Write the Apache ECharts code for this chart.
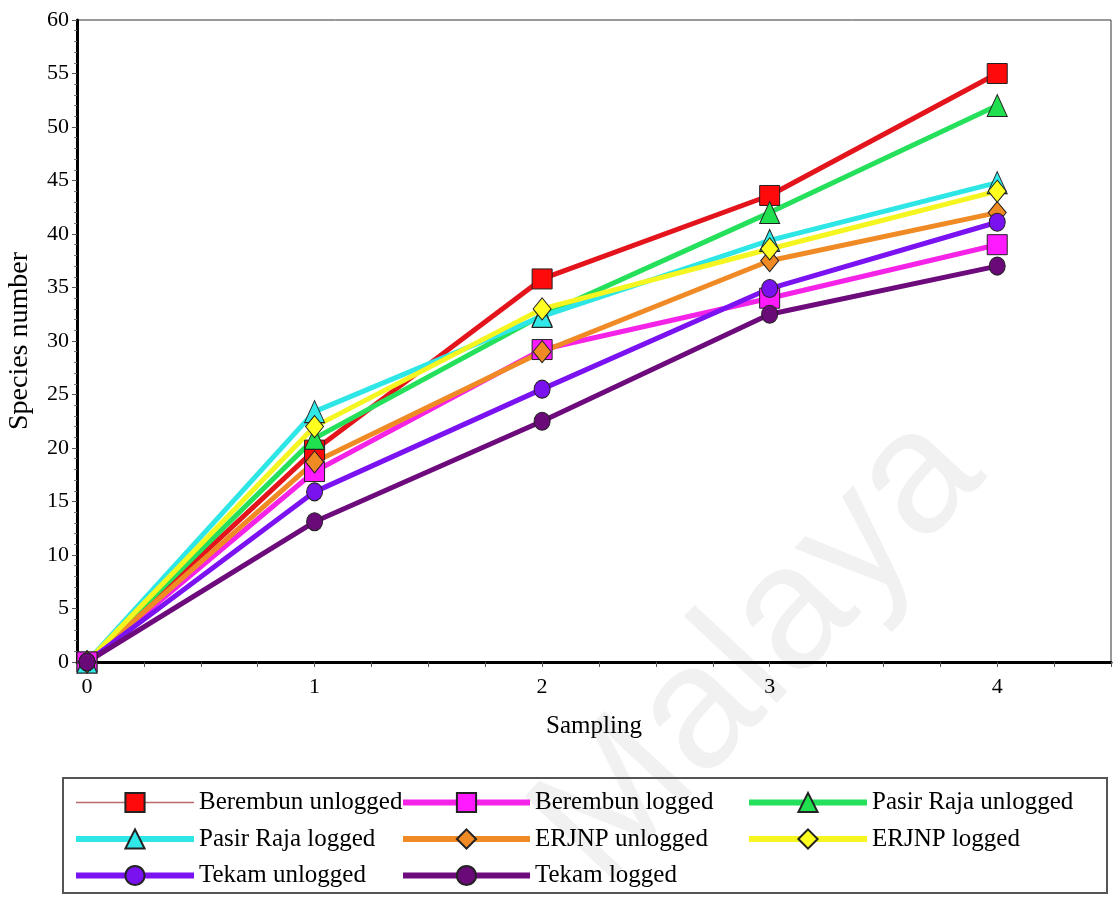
<!DOCTYPE html>
<html>
<head>
<meta charset="utf-8">
<script src="https://cdn.jsdelivr.net/npm/echarts@6/dist/echarts.min.js"></script>
<style>
html,body{margin:0;padding:0;background:#fff;}
#chart{width:1115px;height:899px;}
</style>
</head>
<body>
<div id="chart"></div>
<script>
// ---- data ----
const samplings = [0, 1, 2, 3, 4];
const xTickValues = [0, 0.25, 0.5, 0.75, 1, 1.25, 1.5, 1.75, 2, 2.25, 2.5, 2.75, 3, 3.25, 3.5, 3.75, 4, 4.25, 4.5];
const xLabelValues = [0, 1, 2, 3, 4];
const seriesNames = ['Berembun unlogged', 'Berembun logged', 'Pasir Raja unlogged', 'Pasir Raja logged',
  'ERJNP unlogged', 'ERJNP logged', 'Tekam unlogged', 'Tekam logged'];
const berembunUnlogged = [0, 19.8, 35.8, 43.6, 55];
const berembunLogged   = [0, 17.8, 29.2, 34.0, 39];
const pasirRajaUnlogged = [0, 20.9, 32.4, 42.0, 52];
const pasirRajaLogged  = [0, 23.4, 32.3, 39.4, 44.8];
const erjnpUnlogged    = [0, 18.7, 29.0, 37.5, 42];
const erjnpLogged      = [0, 22.0, 33.0, 38.6, 44];
const tekamUnlogged    = [0, 15.9, 25.5, 34.9, 41.1];
const tekamLogged      = [0, 13.1, 22.5, 32.5, 37];
const seriesValues = [berembunUnlogged, berembunLogged, pasirRajaUnlogged, pasirRajaLogged,
  erjnpUnlogged, erjnpLogged, tekamUnlogged, tekamLogged];

// ---- styles ----
const lineColors = ['#e4141c', '#f523e8', '#25e05a', '#2ee6e6', '#f08a25', '#f5f520', '#7b12f2', '#6d0a7c'];
const markerColors = ['#ff0a0a', '#ff1aff', '#20e050', '#30e8e8', '#f08a25', '#ffff20', '#7a12f0', '#6a0a78'];
const symbols = ['rect', 'rect', 'triangle', 'triangle', 'diamond', 'diamond', 'circle', 'circle'];
const symbolSizes = [[20, 20], [20, 20], [20, 22], [20, 22], [18, 22], [18, 22], [16, 18], [16, 18]];
const serif = '"Liberation Serif", "Times New Roman", serif';

const series = seriesNames.map((name, i) => ({
  name: name,
  type: 'line',
  data: samplings.map((x, j) => [x, seriesValues[i][j]]),
  symbol: symbols[i],
  symbolSize: symbolSizes[i],
  showAllSymbol: true,
  lineStyle: { color: lineColors[i], width: 5 },
  itemStyle: { color: markerColors[i], borderColor: '#222', borderWidth: 1 },
  emphasis: { disabled: true },
  animation: false
}));

function legendCol(left, itemWidth, names) {
  return {
    orient: 'vertical',
    left: left,
    top: 790,
    height: 130,
    padding: 0,
    itemWidth: itemWidth,
    itemHeight: 24,
    itemGap: 11.5,
    selectedMode: false,
    textStyle: { fontFamily: serif, fontSize: 25, color: '#000' },
    data: names.map(n => n === 'Berembun unlogged'
      ? { name: n, lineStyle: { width: 1.5, color: '#b86a6a' } }
      : { name: n, lineStyle: { width: 6 } })
  };
}

const chart = echarts.init(document.getElementById('chart'), null, { renderer: 'canvas' });
chart.setOption({
  backgroundColor: '#fff',
  animation: false,
  grid: {
    left: 77, right: 4, top: 20, bottom: 237,
    containLabel: false,
    outerBoundsMode: 'none',
    show: true, borderColor: '#333', borderWidth: 1, backgroundColor: 'transparent'
  },
  xAxis: {
    type: 'value',
    min: -0.044,
    max: 4.5,
    name: 'Sampling',
    nameLocation: 'middle',
    nameGap: 52,
    nameTextStyle: { fontFamily: serif, fontSize: 25, color: '#000' },
    axisLine: { show: true, onZero: false, lineStyle: { color: '#000', width: 3 } },
    axisTick: { show: true, inside: false, length: 5, customValues: xTickValues, lineStyle: { color: '#555', width: 1 } },
    axisLabel: { customValues: xLabelValues, fontFamily: serif, fontSize: 22, color: '#000', margin: 14 },
    splitLine: { show: false }
  },
  yAxis: {
    type: 'value',
    min: 0,
    max: 60,
    interval: 5,
    name: 'Species number',
    nameLocation: 'middle',
    nameGap: 43,
    nameTextStyle: { fontFamily: serif, fontSize: 28, color: '#000' },
    axisLine: { show: true, onZero: false, lineStyle: { color: '#000', width: 3 } },
    axisTick: { show: true, inside: false, length: 5, lineStyle: { color: '#555', width: 1 } },
    minorTick: { show: true, splitNumber: 5, length: 3, lineStyle: { color: '#777', width: 1 } },
    axisLabel: { fontFamily: serif, fontSize: 22, color: '#000', margin: 8 },
    splitLine: { show: false }
  },
  legend: [
    legendCol(73, 118, ['Berembun unlogged', 'Pasir Raja logged', 'Tekam unlogged']),
    legendCol(400, 127, ['Berembun logged', 'ERJNP unlogged', 'Tekam logged']),
    legendCol(746, 118, ['Pasir Raja unlogged', 'ERJNP logged'])
  ],
  graphic: [
    {
      type: 'text',
      z: -10,
      silent: true,
      x: 760, y: 650,
      rotation: 0.82,
      style: {
        text: 'Malaya',
        fontFamily: '"Liberation Sans", Arial, sans-serif',
        fontSize: 175,
        fill: '#f1f1f1',
        align: 'center',
        verticalAlign: 'middle'
      }
    },
    {
      type: 'rect',
      z: 0,
      silent: true,
      shape: { x: 63, y: 778, width: 1044, height: 115 },
      style: { fill: 'none', stroke: '#555', lineWidth: 2 }
    }
  ],
  series: series
});
</script>
</body>
</html>
